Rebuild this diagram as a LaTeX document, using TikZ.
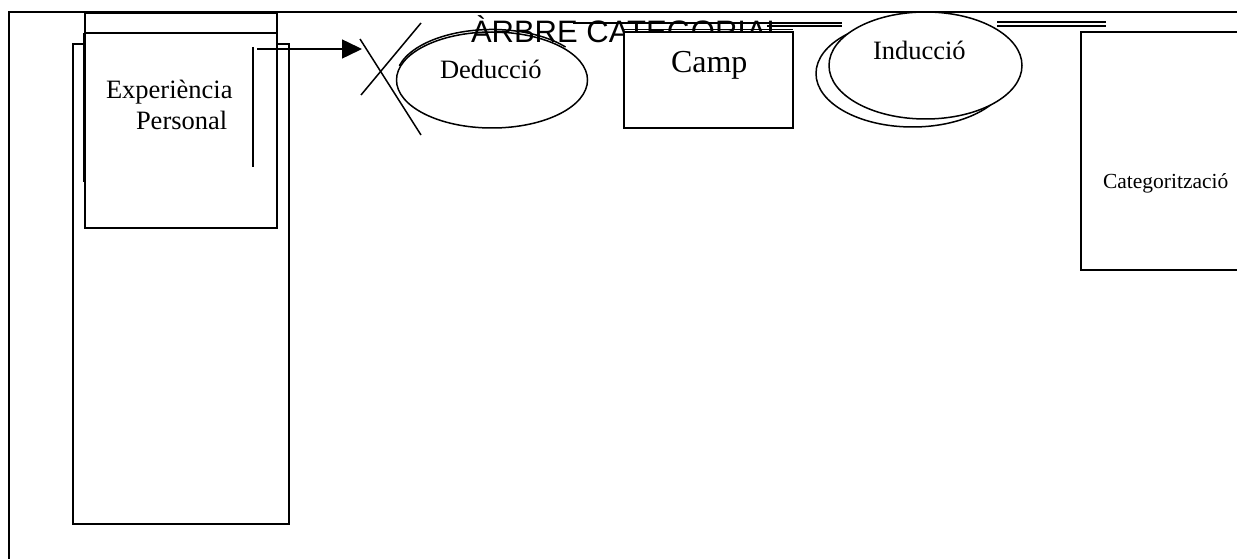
\documentclass[tikz,border=0pt]{standalone}
\usepackage{fontspec}
\setmainfont{Liberation Serif}
\newfontfamily\arialf{Liberation Sans}
\usetikzlibrary{arrows.meta,shapes.geometric}
\begin{document}
\begin{tikzpicture}[x=1pt,y=-1pt,line width=1.5pt,
  boxr/.style={draw,fill=white,rectangle,inner sep=0pt,outer sep=0pt},
  ell/.style={draw,fill=white,ellipse,inner sep=0pt,outer sep=0pt},
  lbl/.style={inner sep=0pt,outer sep=0pt,anchor=base west},
  big/.style={font=\fontsize{26.5}{30}\selectfont},
  frame/.style={line width=1.2pt}]
\useasboundingbox (0,0) rectangle (1237,559);
\clip (0,0) rectangle (1237,559);
% frame
\coordinate (f1) at (9,559);
\coordinate (f2) at (9,12);
\coordinate (f3) at (1237,12);
\draw[frame] (f1) -- (f2) -- (f3);
% tall rectangle and experience box
\node[boxr,minimum width=216pt,minimum height=480pt] (tall) at (181,284) {};
\node[boxr,minimum width=192pt,minimum height=215pt] (exp) at (181,120.5) {};
\coordinate (s1) at (85,33);
\coordinate (s2) at (277,33);
\draw (s1) -- (s2);
\coordinate (e1) at (84,33);
\coordinate (e2) at (84,182);
\draw (e1) -- (e2);
\coordinate (v1) at (253,47);
\coordinate (v2) at (253,167);
\draw (v1) -- (v2);
\node[lbl,big] (t1) at (106,99) {Experiència};
\node[lbl,big] (t2) at (136,130) {Personal};
% arrow
\coordinate (a1) at (257,49);
\coordinate (a2) at (362,49);
\draw[-{Triangle[length=20pt,width=19pt]}] (a1) -- (a2);
% cross
\coordinate (x1) at (360,39);
\coordinate (x2) at (421,135);
\coordinate (x3) at (421,23);
\coordinate (x4) at (361,95);
\draw (x1) -- (x2);
\draw (x3) -- (x4);
% Deducció
\node[ell,minimum width=191pt,minimum height=96pt] (ded) at (492,80) {};
\draw (399.3,65.8) arc[start angle=195,end angle=320,x radius=96,y radius=49];
\node[lbl,big] (dedt) at (440,79) {Deducció};
% title
\node[lbl,font=\arialf\fontsize{31}{34}\selectfont] (title) at (471,43) {ÀRBRE CATEGORIAL};
\coordinate (l1) at (573,23);
\coordinate (l2) at (842,23);
\coordinate (l3) at (767,26);
\coordinate (l4) at (842,26);
\coordinate (l5) at (997,22);
\coordinate (l6) at (1106,22);
\coordinate (l7) at (997,26);
\coordinate (l8) at (1106,26);
\draw (l1) -- (l2);
\draw (l3) -- (l4);
\draw (l5) -- (l6);
\draw (l7) -- (l8);
% Camp
\node[boxr,minimum width=169pt,minimum height=96pt] (camp) at (708.5,80) {};
\coordinate (c1) at (624,29.5);
\coordinate (c2) at (793,29.5);
\draw (c1) -- (c2);
\node[lbl,font=\fontsize{32}{36}\selectfont] (campt) at (671,73) {Camp};
% Inducció
\node[ell,minimum width=193pt,minimum height=107pt] (indb) at (912.5,73.5) {};
\node[ell,minimum width=193pt,minimum height=107pt] (ind) at (925.5,65.5) {};
\node[lbl,big] (indt) at (873,60) {Inducció};
% Categorització
\node[boxr,minimum width=169pt,minimum height=238pt] (cat) at (1165.5,151) {};
\node[lbl,font=\fontsize{21.5}{24}\selectfont] (catt) at (1103,189) {Categorització};
\end{tikzpicture}
\end{document}
